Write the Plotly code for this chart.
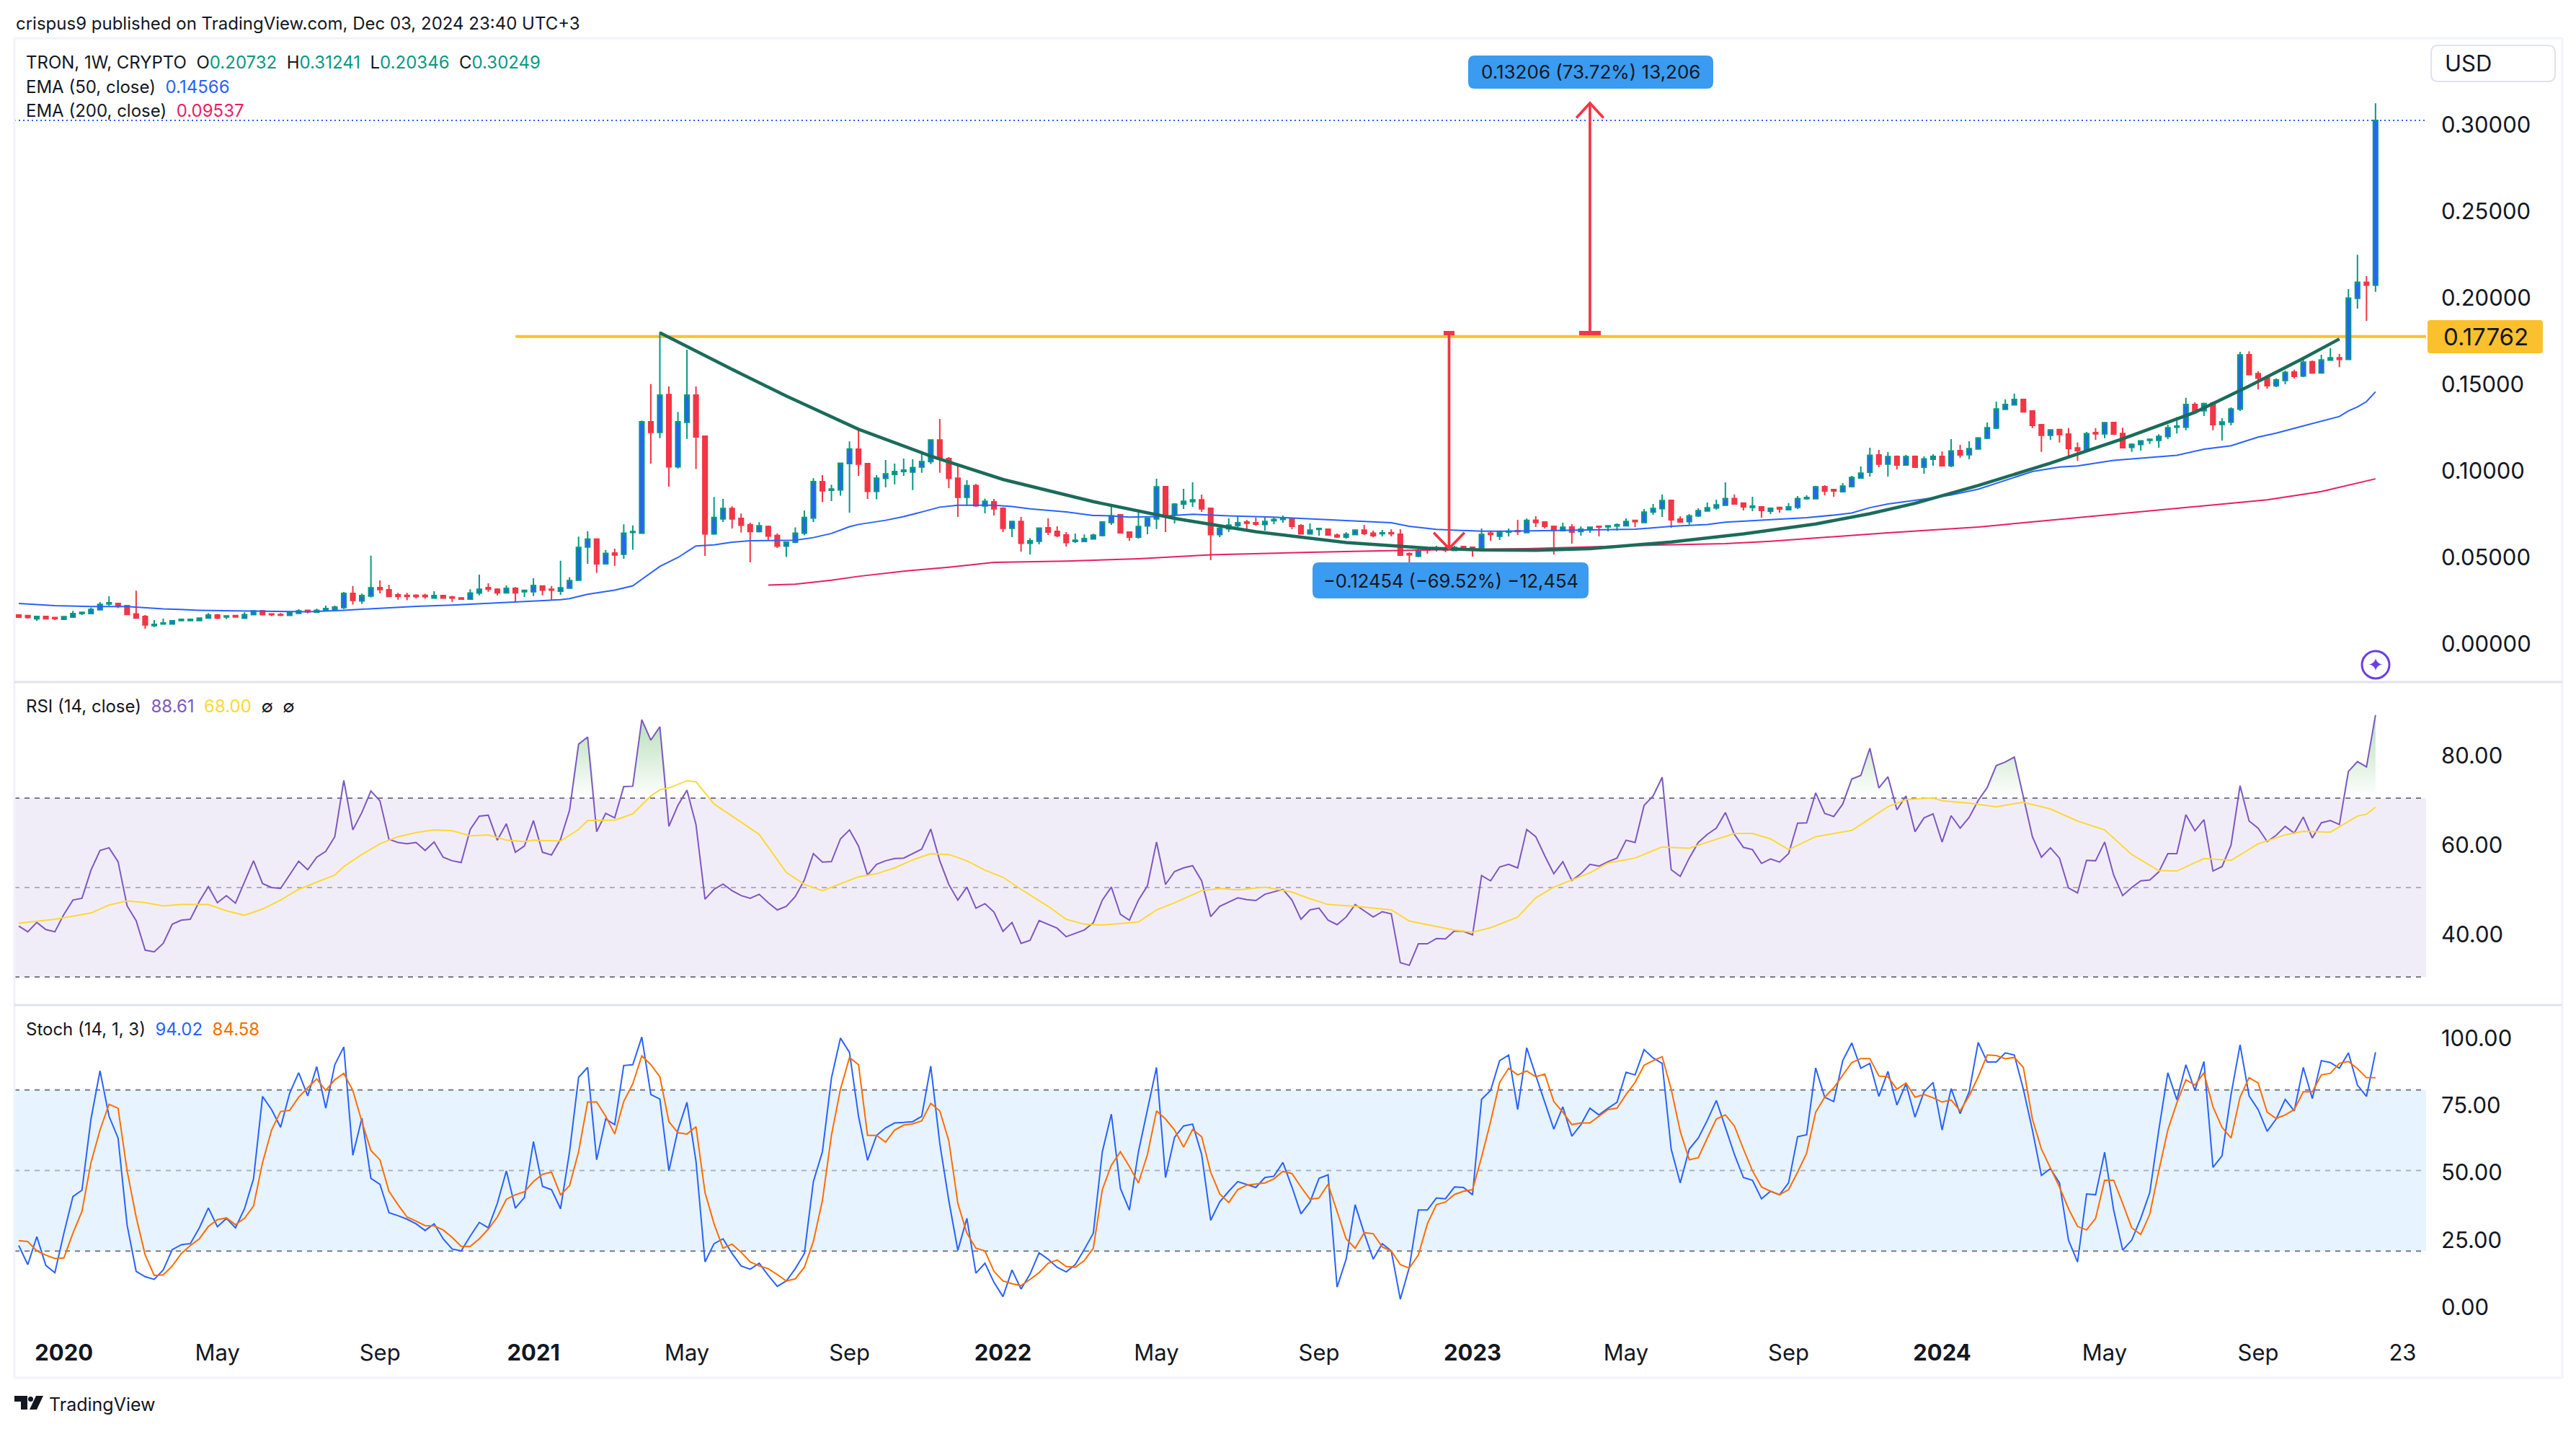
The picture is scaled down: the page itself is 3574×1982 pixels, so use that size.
import pandas as pd
import plotly.graph_objects as go
from plotly.subplots import make_subplots

# weekly TRX/USD candles
opens = [.0167,.0163,.0145,.0158,.0152,.0142,.0154,.0175,.0175,.0197,
         .0230,.0233,.0221,.0173,.0158,.0105,.0114,.0114,.0134,.0134,
         .0134,.0149,.0167,.0155,.0163,.0148,.0169,.0190,.0173,.0170,
         .0164,.0176,.0194,.0182,.0194,.0197,.0209,.0292,.0248,.0276,
         .0325,.0312,.0283,.0280,.0280,.0280,.0264,.0279,.0271,.0266,
         .0258,.0294,.0325,.0316,.0295,.0321,.0301,.0301,.0334,.0316,
         .0304,.0322,.0368,.0559,.0605,.0462,.0525,.0518,.0644,.0640,
         .1283,.1222,.1441,.1023,.1280,.1438,.1200,.0635,.0722,.0782,
         .0725,.0688,.0649,.0678,.0626,.0564,.0587,.0640,.0727,.0937,
         .0887,.0890,.1042,.1125,.1042,.0881,.0956,.0979,.0996,.0993,
         .1022,.1053,.1178,.1071,.0957,.0847,.0915,.0797,.0821,.0783,
         .0668,.0707,.0581,.0593,.0671,.0650,.0629,.0592,.0592,.0606,
         .0626,.0701,.0746,.0646,.0617,.0681,.0722,.0908,.0747,.0807,
         .0822,.0832,.0783,.0631,.0665,.0683,.0704,.0700,.0690,.0711,
         .0719,.0721,.0683,.0635,.0661,.0662,.0628,.0617,.0631,.0657,
         .0640,.0636,.0643,.0633,.0521,.0506,.0547,.0546,.0550,.0540,
         .0562,.0558,.0550,.0640,.0622,.0646,.0654,.0643,.0714,.0704,
         .0679,.0654,.0675,.0649,.0658,.0679,.0676,.0681,.0682,.0713,
         .0701,.0761,.0781,.0829,.0721,.0706,.0739,.0768,.0785,.0801,
         .0840,.0813,.0788,.0792,.0767,.0788,.0775,.0788,.0838,.0838,
         .0908,.0892,.0879,.0908,.0958,.0992,.1092,.1038,.1083,.1033,
         .1083,.1021,.1067,.1083,.1029,.1117,.1093,.1126,.1188,.1247,
         .1355,.1381,.1413,.1346,.1267,.1205,.1238,.1212,.1132,.1117,
         .1221,.1214,.1279,.1216,.1135,.1152,.1176,.1176,.1198,.1252,
         .1252,.1383,.1347,.1391,.1268,.1281,.1356,.1671,.1561,.1536,
         .1492,.1522,.1571,.1548,.1630,.1566,.1640,.1653,.1644,.1997,
         .2090,.20732]
highs = [.0170,.0165,.0158,.0161,.0155,.0158,.0190,.0184,.0209,.0242,
         .0275,.0236,.0221,.0307,.0167,.0137,.0146,.0137,.0146,.0146,
         .0151,.0178,.0173,.0161,.0167,.0182,.0194,.0196,.0176,.0178,
         .0185,.0200,.0197,.0203,.0221,.0221,.0300,.0334,.0291,.0509,
         .0367,.0342,.0295,.0295,.0286,.0289,.0304,.0283,.0277,.0269,
         .0316,.0400,.0350,.0321,.0337,.0328,.0313,.0379,.0337,.0334,
         .0480,.0385,.0620,.0650,.0605,.0542,.0550,.0691,.0684,.1291,
         .1501,.1804,.1487,.1340,.1700,.1487,.1204,.0849,.0837,.0795,
         .0753,.0700,.0703,.0684,.0638,.0591,.0673,.0771,.0957,.0975,
         .0920,.1048,.1170,.1239,.1046,.0975,.1062,.1042,.1071,.1067,
         .1114,.1182,.1300,.1079,.1029,.0946,.0924,.0840,.0837,.0790,
         .0711,.0733,.0611,.0671,.0725,.0679,.0646,.0637,.0632,.0636,
         .0708,.0807,.0746,.0650,.0762,.0729,.0954,.0912,.0813,.0896,
         .0933,.0862,.0787,.0692,.0725,.0737,.0717,.0729,.0737,.0733,
         .0742,.0729,.0692,.0696,.0670,.0667,.0637,.0646,.0660,.0687,
         .0654,.0658,.0662,.0662,.0529,.0550,.0558,.0567,.0562,.0567,
         .0562,.0561,.0667,.0650,.0654,.0667,.0717,.0725,.0737,.0708,
         .0683,.0700,.0692,.0679,.0675,.0679,.0682,.0696,.0725,.0717,
         .0779,.0808,.0863,.0829,.0737,.0750,.0783,.0817,.0833,.0933,
         .0863,.0813,.0850,.0796,.0788,.0788,.0813,.0854,.0858,.0913,
         .0917,.0892,.0929,.0971,.1025,.1133,.1121,.1108,.1088,.1092,
         .1088,.1083,.1096,.1112,.1183,.1150,.1171,.1195,.1279,.1400,
         .1413,.1446,.1417,.1350,.1271,.1236,.1238,.1247,.1163,.1225,
         .1247,.1282,.1279,.1249,.1158,.1173,.1182,.1211,.1267,.1310,
         .1422,.1396,.1394,.1400,.1304,.1367,.1687,.1691,.1575,.1551,
         .1534,.1579,.1584,.1647,.1638,.1671,.1708,.1676,.2050,.2249,
         .2125,.31241]
lows = [.0151,.0146,.0133,.0142,.0137,.0142,.0154,.0167,.0175,.0197,
        .0221,.0206,.0170,.0149,.0087,.0097,.0114,.0112,.0131,.0130,
        .0133,.0148,.0143,.0143,.0154,.0146,.0167,.0164,.0160,.0160,
        .0164,.0175,.0176,.0181,.0190,.0197,.0201,.0227,.0231,.0269,
        .0292,.0271,.0255,.0252,.0261,.0261,.0263,.0264,.0243,.0254,
        .0258,.0280,.0301,.0280,.0295,.0245,.0271,.0276,.0280,.0251,
        .0283,.0322,.0364,.0462,.0410,.0461,.0451,.0492,.0544,.0637,
        .1042,.1188,.0908,.1013,.1184,.1010,.0508,.0630,.0704,.0667,
        .0644,.0471,.0644,.0599,.0554,.0502,.0581,.0628,.0704,.0820,
        .0825,.0856,.0758,.0971,.0837,.0835,.0904,.0922,.0971,.0888,
        .0988,.1039,.0988,.0900,.0733,.0797,.0792,.0754,.0742,.0646,
        .0617,.0533,.0517,.0575,.0629,.0617,.0562,.0583,.0588,.0606,
        .0621,.0687,.0642,.0596,.0608,.0633,.0663,.0646,.0696,.0779,
        .0792,.0762,.0483,.0617,.0647,.0675,.0658,.0683,.0654,.0692,
        .0700,.0662,.0635,.0633,.0625,.0625,.0612,.0608,.0629,.0629,
        .0617,.0621,.0621,.0508,.0454,.0500,.0521,.0533,.0529,.0537,
        .0542,.0504,.0547,.0596,.0600,.0621,.0629,.0643,.0675,.0667,
        .0517,.0650,.0579,.0625,.0642,.0621,.0650,.0654,.0679,.0675,
        .0700,.0746,.0733,.0671,.0700,.0688,.0733,.0767,.0775,.0800,
        .0808,.0771,.0767,.0729,.0750,.0758,.0775,.0779,.0833,.0838,
        .0858,.0850,.0875,.0908,.0958,.0967,.1021,.0967,.1008,.1029,
        .1017,.0983,.1029,.1025,.1021,.1075,.1067,.1123,.1183,.1242,
        .1355,.1381,.1341,.1247,.1109,.1179,.1163,.1081,.1058,.1117,
        .1179,.1188,.1212,.1133,.1109,.1117,.1155,.1133,.1183,.1216,
        .1234,.1335,.1317,.1234,.1175,.1262,.1346,.1553,.1470,.1475,
        .1483,.1500,.1533,.1542,.1566,.1562,.1635,.1599,.1644,.1938,
        .1866,.20346]
closes = [.0154,.0152,.0158,.0145,.0146,.0157,.0175,.0182,.0199,.0228,
          .0237,.0215,.0170,.0149,.0109,.0112,.0121,.0133,.0142,.0142,
          .0149,.0167,.0149,.0161,.0155,.0169,.0190,.0169,.0169,.0166,
          .0181,.0191,.0185,.0194,.0204,.0212,.0292,.0251,.0279,.0324,
          .0313,.0274,.0274,.0274,.0273,.0273,.0279,.0264,.0264,.0258,
          .0294,.0316,.0316,.0295,.0321,.0295,.0309,.0337,.0310,.0310,
          .0324,.0365,.0557,.0605,.0462,.0523,.0513,.0640,.0649,.1283,
          .1222,.1438,.1023,.1283,.1438,.1196,.0635,.0730,.0782,.0722,
          .0685,.0649,.0682,.0623,.0564,.0587,.0640,.0730,.0937,.0884,
          .0895,.1044,.1126,.1039,.0881,.0957,.0982,.0996,.1004,.1019,
          .1053,.1178,.1067,.0956,.0847,.0915,.0798,.0824,.0780,.0668,
          .0707,.0581,.0596,.0669,.0646,.0625,.0585,.0599,.0608,.0628,
          .0704,.0740,.0642,.0617,.0678,.0725,.0907,.0746,.0807,.0824,
          .0832,.0780,.0631,.0668,.0686,.0700,.0697,.0692,.0707,.0719,
          .0725,.0679,.0635,.0657,.0667,.0629,.0618,.0633,.0657,.0637,
          .0625,.0642,.0636,.0512,.0514,.0542,.0542,.0551,.0542,.0557,
          .0556,.0551,.0632,.0632,.0646,.0651,.0649,.0713,.0701,.0679,
          .0654,.0674,.0646,.0662,.0674,.0675,.0682,.0688,.0707,.0706,
          .0761,.0782,.0828,.0717,.0704,.0740,.0770,.0786,.0803,.0840,
          .0808,.0792,.0796,.0771,.0783,.0779,.0792,.0840,.0846,.0907,
          .0883,.0883,.0911,.0961,.0986,.1090,.1038,.1082,.1033,.1082,
          .1021,.1069,.1083,.1029,.1115,.1092,.1128,.1190,.1249,.1357,
          .1383,.1412,.1341,.1262,.1205,.1236,.1209,.1129,.1117,.1215,
          .1214,.1278,.1212,.1133,.1153,.1173,.1182,.1199,.1249,.1258,
          .1383,.1347,.1389,.1267,.1282,.1357,.1670,.1556,.1535,.1492,
          .1525,.1569,.1546,.1628,.1566,.1641,.1653,.1644,.1998,.2090,
          .2073,.30249]

# moving averages and the cup curve: week number since the first candle, price
ema50_weeks = [0,4,8,12,16,20,24,28,32,36,40,44,48,52,56,60,61,63,66,68,69,71,73,75,77,79,81,84,86,88,90,92,93,96,98,100,102,104,108,110,112,116,119,121,123,126,130,134,139,152,154,157,162,165,171,175,179,183,187,189,194,198,201,203,205,207,211,214,217,219,223,226,228,232,239,242,245,248,250,253,257,258,259,260,261]
ema50 = [.0233,.0221,.0215,.0215,.0202,.0194,.0190,.0186,.0185,.0194,.0206,.0217,.0224,.0234,.0243,.0255,.0261,.0286,.0310,.0335,.0373,.0447,.0499,.0566,.0572,.0587,.0596,.0599,.0599,.0614,.0638,.0677,.0690,.0714,.0735,.0762,.0790,.0801,.0801,.0794,.0780,.0762,.0742,.0740,.0732,.0735,.0749,.0740,.0732,.0700,.0679,.0661,.0651,.0651,.0656,.0658,.0662,.0679,.0690,.0703,.0717,.0729,.0744,.0756,.0787,.0808,.0836,.0860,.0894,.0929,.0996,.1022,.1028,.1060,.1090,.1125,.1145,.1195,.1218,.1259,.1314,.1346,.1369,.1400,.14566]
ema200_weeks = [83,86,90,93,98,103,108,116,124,132,143,155,167,179,189,194,207,217,220,231,243,249,255,261]
ema200 = [.0339,.0345,.0368,.0390,.0420,.0443,.0471,.0478,.0492,.0515,.0529,.0542,.0550,.0568,.0579,.0593,.0642,.0675,.0690,.0743,.0803,.0832,.0880,.09537]
cup_weeks = [71,75,80,85,93,101,109,119,128,137,147,156,162,168,174,183,191,199,205,210,217,225,233,241,247,253,257]
cup = [.1798,.1690,.1560,.1432,.1240,.1085,.0950,.0822,.0725,.0648,.0585,.0553,.0543,.0541,.0550,.0588,.0635,.0693,.0752,.0812,.0915,.1044,.1185,.1338,.1490,.1650,.1762]

rsi = [41.4,40.1,42.2,40.6,40.1,44,47.2,47.6,53.9,58.3,58.9,55.8,45.9,42.6,36,35.6,37.5,41.8,42.7,42.9,
       46.9,50.2,46.6,48.2,46.5,51.2,56,50.9,50,49.8,52.8,55.9,54,56.8,58.1,61.4,74,62.9,66.8,71.6,
       69.4,60.8,60.1,59.8,60.1,58.3,60.2,56.8,56,55.6,63,66,66.2,60.6,64.3,57.9,59.3,65,57.9,57.3,
       60.8,67.3,82.1,83.7,62.5,66.6,65.6,72.6,72.7,87.6,83,86,63.7,68.4,71.8,64.1,47.4,49.6,50.8,49.3,
       48.2,47.6,48.5,46.6,45,45.8,48,51.7,57.6,55.7,55.8,60.9,62.9,59.3,52.8,55.2,56,56.5,56.6,57.6,
       58.6,63.1,56,50.7,47.2,50.1,45.4,46.4,44.5,40.2,42.2,37.5,38.2,42.6,41.8,40.9,39,39.7,40.5,42.1,
       47.2,50.1,44,42.7,47.2,50.4,60.2,50.7,53.6,54.4,54.9,51.5,43.5,45.8,46.7,47.7,47.3,47.1,48.5,49,
       49.6,47.2,42.9,45,45.4,42.7,41.7,43.4,46.2,44.8,43.4,44.6,44.1,33.2,32.6,37.4,37.4,38.6,38.5,40.3,
       40.2,39.4,52.7,51.5,54.6,55.2,54.4,63,61.4,57.1,53.1,55.8,51.6,53.1,55.2,54.8,55.8,56.6,60.6,60.1,
       68.4,70.5,74.7,54,52.5,56.6,60.1,61.9,63.3,66.8,61.9,59,58.5,55.4,56.4,55.7,57.6,64.4,64.5,71.2,
       66.6,65.9,68.7,74.3,75.1,81.2,72.3,74.8,67.4,70.5,62.5,65.6,66.5,60.2,66.1,63.3,65.7,69.5,72.4,77.3,
       78.1,79.2,70.3,61.4,56.8,58.9,56.6,49.9,48.8,56.1,56,60.2,52.8,48.2,50,51.5,51.7,53.5,57.6,57.6,
       66.3,62.7,65.2,53.7,54.7,59.5,72.8,64.9,63.3,60.3,61.7,63.7,62.2,65.8,61.1,64.5,65,64.1,76,78.2,
       77,88.61]
rsi_ma_weeks = [0,4,8,10,12,14,16,18,21,23,25,27,29,31,35,36,38,40,42,44,46,48,50,52,54,56,57,60,62,63,66,68,70,71,72,74,75,77,79,82,85,87,89,91,93,95,97,99,101,103,105,107,109,111,114,116,118,120,124,126,128,131,133,135,138,141,143,145,148,152,154,157,159,161,163,166,168,170,174,176,179,182,185,188,190,192,194,196,199,203,205,207,209,212,213,216,219,222,225,228,231,234,237,239,242,245,248,251,253,256,259,260,261]
rsi_ma = [42,42.9,44.3,46.1,47,46.6,45.9,46.2,46.2,44.8,43.8,45.2,47.2,49.6,52.8,54.7,57.4,59.8,61.4,62.3,62.9,62.7,61.6,61.8,60.6,60.3,60.6,60.4,63,65,65.1,66.5,70.5,71.9,72.3,73.9,73.7,68.7,66,61.9,53.4,50.7,49.3,50.9,52.4,53.1,54.4,56.2,57.6,57.4,56,53.9,52.3,49.6,45.8,42.9,41.8,41.6,42.3,45,46.6,49.3,49.8,49.5,50.1,49,47.5,46.2,45.8,45,42.5,41.3,40.5,40,41,43.4,47.7,50.1,53.3,55.5,56.6,59.1,58.8,60.8,62.1,62.1,60.9,58.5,61.4,62.8,65.4,68.1,69.7,70.1,69.4,68.9,68.1,69.1,67.6,64.9,62.9,57.4,53.8,53.7,56.5,56.1,59.8,61.8,62.6,62.4,66,66.4,68]

stoch_k = [22.1,15,25.4,14.7,12,26.7,40.3,42.7,69.2,87.1,70.2,62.1,29.7,12.5,10.5,9.5,13,20.6,22.4,22.8,
           28.7,36.1,29.1,32.2,28.7,35.8,46.9,77.6,72.7,66.1,78.8,86.4,77.8,88.7,73.2,89.4,96,55.7,69.5,47.1,
           44.9,34.3,33.2,31.9,30.2,27.7,30.2,24.6,20.8,20.1,25.6,30.7,28.7,37.8,49.9,36,40,60.8,44.1,42.9,
           35.8,57,84.7,88.4,54,69.2,67.1,89.1,89.4,99.7,78.3,76.6,49.9,65.1,75.4,53.5,16,22.8,24.6,19.1,
           14.5,13.3,15.5,11,6.9,8.9,13.5,19.1,45.9,57,84.4,99.3,94,70.2,53.8,63.1,65.9,67.7,67.9,68.2,
           70.2,88.9,60.1,38.8,20.3,32.2,11.8,15.5,8.4,3.1,13,5.9,11.5,19.4,17,14,12.3,15,20.6,26.7,
           57,71,43.4,35.3,57,72.7,88.4,47.4,62.4,66.6,67.3,56,31.5,38.3,42.3,45.9,44.7,43.7,47.4,47.9,
           53,43.9,33.9,38.3,47.1,48.4,6.6,17,37.3,26.7,17,22.8,20.1,2.1,14,35.3,35.3,39.8,39.5,43.9,
           43.7,41,76.5,79.8,90.9,93,72.7,95.7,85.4,75.2,65.4,73.7,62.8,67.1,73.2,70.7,73.2,75.4,86.6,85.6,
           95,91.9,89.9,58,45.4,58,62.1,68.7,76.1,66.1,56,47.4,46.4,39.5,42.3,41,45.4,62.6,63.3,88.2,
           77.3,75.7,90.9,97.5,88.1,89.9,77.6,86.9,74.4,82.3,69.9,79.3,82.8,65.1,80.5,71.2,79.3,97.7,90.4,90.4,
           93.8,93,80.3,65.1,48.2,50.7,45.4,24.1,16,41.3,41,56.8,35.3,20.4,24.1,32.2,41.8,65.1,86.4,76.3,
           89.4,79.8,90.6,51.2,55.5,78.3,96.8,77.8,72.7,64.6,69.2,76.5,72.2,88.4,76.8,90.9,90.2,88.1,93.8,81.8,
           77.6,94.02]
stoch_d = [23.9,23.6,20.1,18.5,17.3,17.5,26.7,34.8,53,65.1,74.7,73.2,49.9,32.7,18.6,11,11.2,14.5,19.1,22.1,
           24.6,29.2,31.7,32.4,29.9,32.2,36.8,53,65.1,72,72.4,77.3,80.8,84.1,79.8,83.8,86.2,79.8,68.2,57.5,
           54,42.3,37.3,32.7,31.2,29.5,29.4,27.9,25.1,21.8,21.8,24.6,28.2,32.7,39.3,41,42.1,45.9,48.6,49.4,
           41,44.4,57,75.5,75.5,70.2,63.6,75.7,82.3,92.7,89.4,84.9,68.2,64.1,63.6,66.3,41.8,30.2,21.1,22.6,
           19.6,16,14.5,13.5,11.3,8.9,9.7,14,23.6,38.8,63.1,80.3,92.1,89.4,63.1,63.1,60.6,65.1,66.9,67.4,
           68.5,75,72.2,61.1,37.8,26.7,21.1,20.1,12.5,8.9,7.9,7.2,9.5,12,15.5,16.7,14.3,14,16.5,21.1,
           42.9,52,57,51.5,45.4,56,72.2,69.2,65.1,58.7,65.3,62.6,49.4,41.3,38.1,42.9,44.6,44.9,45.4,46.9,
           49.7,48.9,43.9,39.3,39.8,44.9,34.8,24.6,21.1,26.9,26.5,21.6,20.1,15,13.7,18.6,30.2,37.3,38.3,41.1,
           42.3,42.9,55,68.2,82.8,88.1,85.6,87.1,84.9,85.9,75.7,71.7,67.1,67.7,67.7,70.2,72.7,73.2,78.3,82.8,
           89.2,90.9,92.4,80.3,64.6,54,54.8,62.1,69.2,70.7,66.6,58,49.9,43.9,42.3,41,42.9,49.4,56.5,71.7,
           77.3,80.8,85.4,90.2,91.7,91.7,85.2,84.9,80.3,82.6,77.3,78.3,77.1,75.5,76.3,72.2,77.8,84.9,93,92.8,
           91.6,92.1,88.4,69.2,58,51,43.9,35.8,29.2,27.9,32.2,46.4,46.4,37.8,28.7,26.2,33.7,49.9,65.1,75.2,
           83.8,81.8,86.4,73.7,66.1,62.1,77.3,84.6,82.6,71.7,69.4,70.7,72.7,79.3,79.3,85.6,86.2,89.9,90.6,87.9,
           84.6,84.58]

price_ticks = [0, .05, .10, .15, .20, .25, .30]
rsi_ticks = [40, 60, 80]
stoch_ticks = [0, 25, 50, 75, 100]
time_ticks = ["2020-01-06","2020-05-04","2020-09-07","2021-01-04","2021-05-03","2021-09-06","2022-01-03","2022-05-02","2022-09-05","2023-01-02","2023-05-01","2023-09-04","2024-01-01","2024-05-06","2024-09-02","2024-12-23"]
time_labels = ["<b>2020</b>","May","Sep","<b>2021</b>","May","Sep","<b>2022</b>","May","Sep","<b>2023</b>","May","Sep","<b>2024</b>","May","Sep","23"]

resistance = .17762
last_close = .30249

W, H = 3574, 1982
FONT = "Inter, 'Noto Sans', sans-serif"
INK = "#131722"
GREEN = "#089981"
BLUE = "#2962FF"
RED = "#F23645"
PINK = "#E91E63"
PURPLE = "#7E57C2"
YELLOW = "#FDD835"
ORANGE = "#FF6D00"
AMBER = "#FBC02D"
CUP = "#1B6B5A"
LABEL_BLUE = "#3A9BF0"

dates = pd.date_range("2019-12-02", periods=len(closes), freq="7D")


def week(w):
    return dates[0] + pd.Timedelta(days=7 * w)


def px(x):
    return x / W


def py(y):
    return 1 - y / H


fig = make_subplots(rows=3, cols=1, shared_xaxes=True)

fig.add_trace(go.Candlestick(x=dates, open=opens, high=highs, low=lows, close=closes,
                             increasing=dict(line=dict(color=GREEN, width=2), fillcolor=BLUE),
                             decreasing=dict(line=dict(color=RED, width=2), fillcolor=RED),
                             whiskerwidth=0), row=1, col=1)
fig.add_trace(go.Scatter(x=[week(w) for w in ema50_weeks], y=ema50, mode="lines",
                         line=dict(color=BLUE, width=2)), row=1, col=1)
fig.add_trace(go.Scatter(x=[week(w) for w in ema200_weeks], y=ema200, mode="lines",
                         line=dict(color=PINK, width=2)), row=1, col=1)
fig.add_trace(go.Scatter(x=[week(w) for w in cup_weeks], y=cup, mode="lines",
                         line=dict(color=CUP, width=4.5)), row=1, col=1)

# measuring arrows
down_w, up_w = 158.4, 174
down_top, down_tip = .1796, .0551
up_base, up_tip = .1796, .3125
fig.add_trace(go.Scatter(
    x=[week(down_w), week(down_w), None, week(down_w - 1.7), week(down_w), week(down_w + 1.7), None,
       week(up_w), week(up_w), None, week(up_w - 1.5), week(up_w), week(up_w + 1.5)],
    y=[down_top, down_tip, None, down_tip + .0092, down_tip, down_tip + .0092, None,
       up_base, up_tip, None, up_tip - .0085, up_tip, up_tip - .0085],
    mode="lines", line=dict(color=RED, width=3.7)), row=1, col=1)
fig.add_trace(go.Scatter(
    x=[week(down_w - .6), week(down_w + .6), None, week(up_w - 1.2), week(up_w + 1.2)],
    y=[down_top, down_top, None, up_base, up_base],
    mode="lines", line=dict(color=RED, width=6)), row=1, col=1)

# rsi pane, overbought fill first
fig.add_trace(go.Scatter(x=dates, y=[70] * len(rsi), mode="lines", line=dict(width=0)), row=2, col=1)
fig.add_trace(go.Scatter(x=dates, y=[max(v, 70) for v in rsi], mode="lines", line=dict(width=0),
                         fill="tonexty",
                         fillgradient=dict(type="vertical", start=70, stop=90,
                                           colorscale=[[0, "rgba(76,175,80,0)"], [1, "rgba(76,175,80,0.45)"]])),
              row=2, col=1)
fig.add_trace(go.Scatter(x=dates, y=rsi, mode="lines", line=dict(color=PURPLE, width=2)), row=2, col=1)
fig.add_trace(go.Scatter(x=[week(w) for w in rsi_ma_weeks], y=rsi_ma, mode="lines",
                         line=dict(color=YELLOW, width=2)), row=2, col=1)

fig.add_trace(go.Scatter(x=dates, y=stoch_k, mode="lines", line=dict(color=BLUE, width=2)), row=3, col=1)
fig.add_trace(go.Scatter(x=dates, y=stoch_d, mode="lines", line=dict(color=ORANGE, width=2)), row=3, col=1)

x_domain = [px(20), px(3366)]
x_range = [week(-0.48), week(266.6)]
tick_font = dict(family=FONT, size=31, color=INK)
fig.update_xaxes(domain=x_domain, range=x_range, showgrid=False, zeroline=False, showline=False,
                 rangeslider_visible=False, ticks="")
fig.update_xaxes(tickvals=time_ticks, ticktext=time_labels, tickfont=tick_font,
                 showticklabels=True, ticklabelstandoff=3, row=3, col=1)

axis_style = dict(side="right", showgrid=False, zeroline=False, showline=False, ticks="",
                  tickfont=tick_font, ticklabelstandoff=20)
fig.update_yaxes(domain=[py(946), py(54)], range=[-.0221, .3496], tickvals=price_ticks,
                 ticktext=["%.5f" % t for t in price_ticks], row=1, col=1, **axis_style)
fig.update_yaxes(domain=[py(1394), py(946)], range=[23.7, 96], tickvals=rsi_ticks,
                 ticktext=["%.2f" % t for t in rsi_ticks], ticklabelshift=3, row=2, col=1, **axis_style)
fig.update_yaxes(domain=[py(1852), py(1394)], range=[-11.3, 111.6], tickvals=stoch_ticks,
                 ticktext=["%.2f" % t for t in stoch_ticks], ticklabelshift=3, row=3, col=1, **axis_style)


def rounded(x0, y0, x1, y1, r, fill, line=None, width=0):
    path = (f"M {px(x0 + r)} {py(y0)} L {px(x1 - r)} {py(y0)} Q {px(x1)} {py(y0)} {px(x1)} {py(y0 + r)} "
            f"L {px(x1)} {py(y1 - r)} Q {px(x1)} {py(y1)} {px(x1 - r)} {py(y1)} "
            f"L {px(x0 + r)} {py(y1)} Q {px(x0)} {py(y1)} {px(x0)} {py(y1 - r)} "
            f"L {px(x0)} {py(y0 + r)} Q {px(x0)} {py(y0)} {px(x0 + r)} {py(y0)} Z")
    return dict(type="path", path=path, xref="paper", yref="paper", fillcolor=fill,
                line=dict(color=line or fill, width=width), layer="above")


def frame(x0, y0, x1, y1, color, width=3):
    return dict(type="line", xref="paper", yref="paper", x0=px(x0), y0=py(y0), x1=px(x1), y1=py(y1),
                line=dict(color=color, width=width), layer="below")


def level(y, yref, color, dash="7px,7px", width=2):
    return dict(type="line", xref="x domain", yref=yref, x0=0, x1=1, y0=y, y1=y,
                line=dict(color=color, width=width, dash=dash), layer="below")


shapes = [
    dict(type="rect", xref="x domain", yref="y2", x0=0, x1=1, y0=30, y1=70,
         fillcolor="rgba(126,87,194,0.11)", line=dict(width=0), layer="below"),
    dict(type="rect", xref="x domain", yref="y3", x0=0, x1=1, y0=20, y1=80,
         fillcolor="rgba(33,150,243,0.11)", line=dict(width=0), layer="below"),
    level(70, "y2", "#787B86"), level(30, "y2", "#787B86"), level(50, "y2", "rgba(120,123,134,0.55)"),
    level(80, "y3", "#787B86"), level(20, "y3", "#787B86"), level(50, "y3", "rgba(120,123,134,0.55)"),
    level(last_close, "y", BLUE, dash="2px,4px"),
    dict(type="line", xref="x", yref="y", x0=week(55), x1=x_range[1], y0=resistance, y1=resistance,
         line=dict(color=AMBER, width=4), layer="below"),
    frame(20, 53, 3555, 53, "#F0F3FA"), frame(20, 1911, 3555, 1911, "#F0F3FA"),
    frame(20, 53, 20, 1911, "#F0F3FA"), frame(3555, 53, 3555, 1911, "#F0F3FA"),
    frame(20, 946, 3555, 946, "#E0E3EB"), frame(20, 1394, 3555, 1394, "#E0E3EB"),
    rounded(2037, 77, 2377, 123, 9, LABEL_BLUE),
    rounded(1821, 780, 2204, 830, 9, LABEL_BLUE),
    rounded(3368, 444, 3528, 490, 4, AMBER),
    rounded(3373, 63, 3545, 113, 10, "#FFFFFF", line="#E0E3EB", width=2),
    dict(type="circle", xref="paper", yref="paper", x0=px(3277), x1=px(3315), y0=py(941), y1=py(903),
         fillcolor="#FFFFFF", line=dict(color="#6A3DE8", width=3), layer="above"),
    # TradingView mark
    dict(type="path", path=f"M {px(20)} {py(1936)} L {px(38)} {py(1936)} L {px(38)} {py(1955)} L {px(29)} {py(1955)} "
                           f"L {px(29)} {py(1944)} L {px(20)} {py(1944)} Z",
         xref="paper", yref="paper", fillcolor=INK, line=dict(width=0), layer="above"),
    dict(type="circle", xref="paper", yref="paper", x0=px(39), x1=px(46), y0=py(1944), y1=py(1937),
         fillcolor=INK, line=dict(width=0), layer="above"),
    dict(type="path", path=f"M {px(50)} {py(1936)} L {px(60)} {py(1936)} L {px(51)} {py(1955)} L {px(41)} {py(1955)} Z",
         xref="paper", yref="paper", fillcolor=INK, line=dict(width=0), layer="above"),
]


def label(x, y, text, size=24, anchor="left", color=INK):
    return dict(xref="paper", yref="paper", x=px(x), y=py(y), text=text, showarrow=False,
                xanchor=anchor, yanchor="middle", align=anchor,
                font=dict(family=FONT, size=size, color=color))


def colored(text, color):
    return f'<span style="color:{color}">{text}</span>'


annotations = [
    label(20, 32, "crispus9 published on TradingView.com, Dec 03, 2024 23:40 UTC+3"),
    label(34, 86, "TRON, 1W, CRYPTO  O" + colored("0.20732", GREEN) + "  H" + colored("0.31241", GREEN)
          + "  L" + colored("0.20346", GREEN) + "  C" + colored("0.30249", GREEN)),
    label(34, 120, "EMA (50, close)  " + colored("0.14566", BLUE)),
    label(34, 153, "EMA (200, close)  " + colored("0.09537", PINK)),
    label(34, 980, "RSI (14, close)  " + colored("88.61", PURPLE) + "  " + colored("68.00", YELLOW) + "  ∅  ∅"),
    label(34, 1427, "Stoch (14, 1, 3)  " + colored("94.02", BLUE) + "  " + colored("84.58", ORANGE)),
    label(2207, 100, "0.13206 (73.72%) 13,206", size=26, anchor="center"),
    label(2013, 805, "−0.12454 (−69.52%) −12,454", size=25.5, anchor="center"),
    label(3388, 467, "0.17762", size=33),
    label(3390, 88, "USD", size=31),
    label(3296, 922, "✦", size=26, anchor="center", color="#6A3DE8"),
    label(66, 1948, "TradingView", size=25),
]

fig.update_layout(width=W, height=H, margin=dict(l=0, r=0, t=0, b=0), autosize=False,
                  paper_bgcolor="white", plot_bgcolor="white", showlegend=False,
                  shapes=shapes, annotations=annotations, font=dict(family=FONT, color=INK))

fig.write_html("out.html", config={"displayModeBar": False},
               post_script="document.body.style.margin='0';document.body.style.overflow='hidden';")
